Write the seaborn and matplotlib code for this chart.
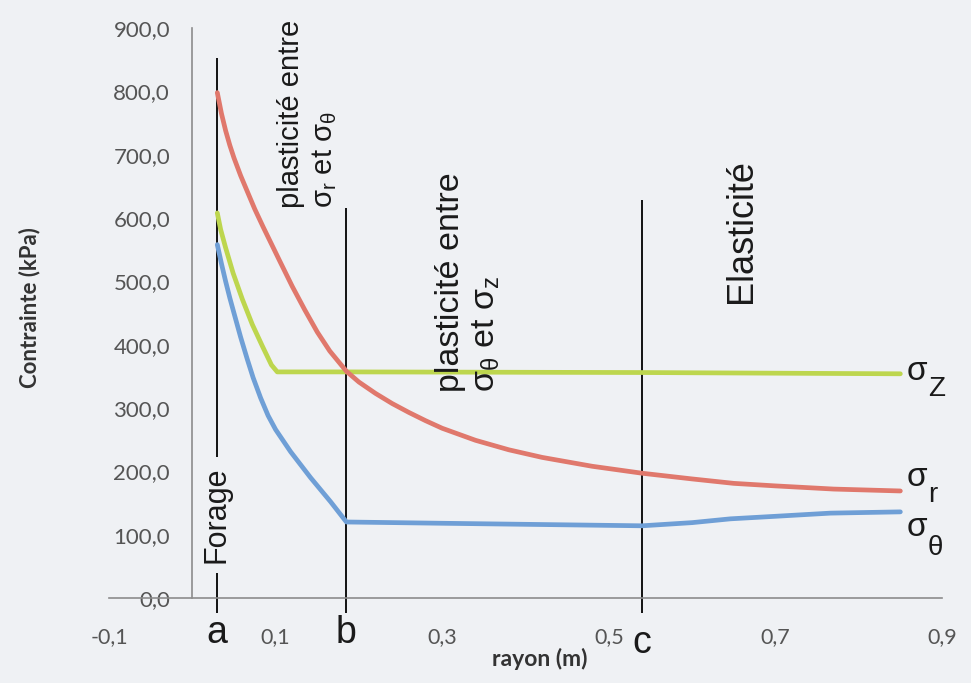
import matplotlib
matplotlib.use("Agg")
import matplotlib.pyplot as plt
import pandas as pd
import seaborn as sns

# ---------------- data ----------------
r_sigma_r = [0.03, 0.035, 0.04, 0.045, 0.05, 0.058, 0.066, 0.075, 0.085, 0.095, 0.105,
             0.12, 0.135, 0.15, 0.165, 0.185, 0.20, 0.22, 0.24, 0.26, 0.28,
             0.30, 0.34, 0.38, 0.42, 0.48, 0.54, 0.60, 0.65, 0.70, 0.77, 0.85]
sigma_r = [798, 765, 738, 715, 695, 667, 642, 614, 586, 559, 532,
           492, 455, 420, 390, 358, 341, 323, 307, 293, 280,
           268, 249, 234, 222, 208, 197, 188, 181, 177, 172, 169]

r_sigma_z = [0.03, 0.034, 0.04, 0.049, 0.06, 0.072, 0.084, 0.095, 0.102, 0.185, 0.54, 0.85]
sigma_z = [608, 582, 553, 513, 472, 432, 398, 368, 357, 357, 356, 354]

r_sigma_t = [0.03, 0.035, 0.04, 0.045, 0.05, 0.058, 0.066, 0.073, 0.082, 0.091, 0.10,
             0.118, 0.142, 0.166, 0.185,
             0.30, 0.42, 0.54, 0.60, 0.646, 0.70, 0.766, 0.85]
sigma_t = [558, 528, 500, 474, 450, 412, 377, 348, 316, 288, 266,
           231, 190, 152, 120,
           118, 116, 114, 119, 125, 129, 134, 136]

boundary_r = [0.03, 0.185, 0.54]
boundary_names = ["a", "b", "c"]
boundary_top = [853, 616, 628]

x_ticks = [-0.1, 0.1, 0.3, 0.5, 0.7, 0.9]
x_tick_labels = ["-0,1", "0,1", "0,3", "0,5", "0,7", "0,9"]
y_ticks = [0, 100, 200, 300, 400, 500, 600, 700, 800, 900]
y_tick_labels = ["0,0", "100,0", "200,0", "300,0", "400,0", "500,0",
                 "600,0", "700,0", "800,0", "900,0"]

series_names = ["sigma_z", "sigma_r", "sigma_t"]
series_colors = {"sigma_z": "#bdd64e", "sigma_r": "#e0786c", "sigma_t": "#6f9fd6"}

df = pd.concat([
    pd.DataFrame({"rayon": r_sigma_z, "contrainte": sigma_z, "serie": "sigma_z"}),
    pd.DataFrame({"rayon": r_sigma_r, "contrainte": sigma_r, "serie": "sigma_r"}),
    pd.DataFrame({"rayon": r_sigma_t, "contrainte": sigma_t, "serie": "sigma_t"}),
], ignore_index=True)

# ---------------- style ----------------
sns.set_style("white")
BG = "#eff1f4"
plt.rcParams["font.family"] = ["Lato", "DejaVu Sans"]
plt.rcParams["mathtext.fontset"] = "custom"
plt.rcParams["mathtext.rm"] = "Liberation Sans"
plt.rcParams["mathtext.it"] = "Liberation Sans"
plt.rcParams["mathtext.sf"] = "Liberation Sans"

fig = plt.figure(figsize=(9.71, 6.83), dpi=100, facecolor=BG)
ax = fig.add_axes([109 / 971, 1 - 598 / 683, 833 / 971, 570 / 683])
ax.set_facecolor(BG)

sns.lineplot(data=df, x="rayon", y="contrainte", hue="serie", hue_order=series_names,
             palette=series_colors, estimator=None, sort=False, legend=False,
             linewidth=3.4, ax=ax, zorder=3)
for ln in ax.lines:
    ln.set_solid_joinstyle("round")
    ln.set_solid_capstyle("round")

ax.set_xlim(-0.1, 0.9)
ax.set_ylim(0, 900)

for s in ["top", "right"]:
    ax.spines[s].set_visible(False)
ax.spines["left"].set_position(("data", 0))
for s in ["left", "bottom"]:
    ax.spines[s].set_color("#8c8c8c")
    ax.spines[s].set_linewidth(1.2)
    ax.spines[s].set_zorder(2.5)

ax.set_xticks(x_ticks)
ax.set_xticklabels(x_tick_labels)
ax.set_yticks(y_ticks)
ax.set_yticklabels(y_tick_labels)
ax.tick_params(axis="x", direction="out", length=6, width=1.2, color="#8c8c8c",
               labelsize=15.5, labelcolor="#555555", pad=15)
ax.tick_params(axis="y", direction="out", length=8, width=1.2, color="#8c8c8c",
               labelsize=16, labelcolor="#555555", pad=8)

ax.set_xlabel("rayon (m)", fontsize=16.5, fontweight="bold", color="#333333")
ax.xaxis.set_label_coords(0.517, -0.088)
ax.set_ylabel("Contrainte (kPa)", fontsize=16, fontweight="bold", color="#333333")
ax.yaxis.set_label_coords(-0.083, 0.51)

# boundary lines a, b, c
ax.vlines(boundary_r, -24, boundary_top, colors="#111111", linewidth=1.4,
          clip_on=False, zorder=2)
for xr, name in zip(boundary_r, boundary_names):
    yb = -87 if name == "c" else -71
    ax.text(xr, yb, name, fontsize=27, family="Liberation Sans", color="#1a1a1a",
            ha="center", va="baseline", clip_on=False)

# zone labels
txt_kw = dict(rotation=90, family="Liberation Sans", color="#1a1a1a",
              ha="center", va="bottom", multialignment="left", linespacing=1.2)
ax.text(0.139, 616, "plasticité entre\nσ$_{\\mathrm{r}}$ et σ$_{\\mathrm{\\theta}}$",
        fontsize=21, **txt_kw)
ax.text(0.332, 325, "plasticité entre\nσ$_{\\mathrm{\\theta}}$ et σ$_{\\mathrm{z}}$",
        fontsize=24.5, **txt_kw)
ax.text(0.659, 466, "Elasticité", fontsize=26, **txt_kw)
ax.text(0.029, 131, "Forage", rotation=90, family="Liberation Sans", fontsize=22,
        color="#1a1a1a", ha="center", va="center", zorder=2.2,
        bbox=dict(facecolor=BG, edgecolor="none", pad=7))

# curve labels at right
curve_labels = [("Z", 357, 330), ("r", 191, 163), ("θ", 112, 79)]
for sub, ys, ysub in curve_labels:
    ax.text(0.857, ys, "σ", fontsize=24, family="Liberation Sans", color="#1a1a1a",
            ha="left", va="center", clip_on=False)
    ax.text(0.883, ysub, sub, fontsize=20, family="Liberation Sans", color="#1a1a1a",
            ha="left", va="center", clip_on=False)

fig.savefig("out.png", dpi=100, facecolor=BG)
